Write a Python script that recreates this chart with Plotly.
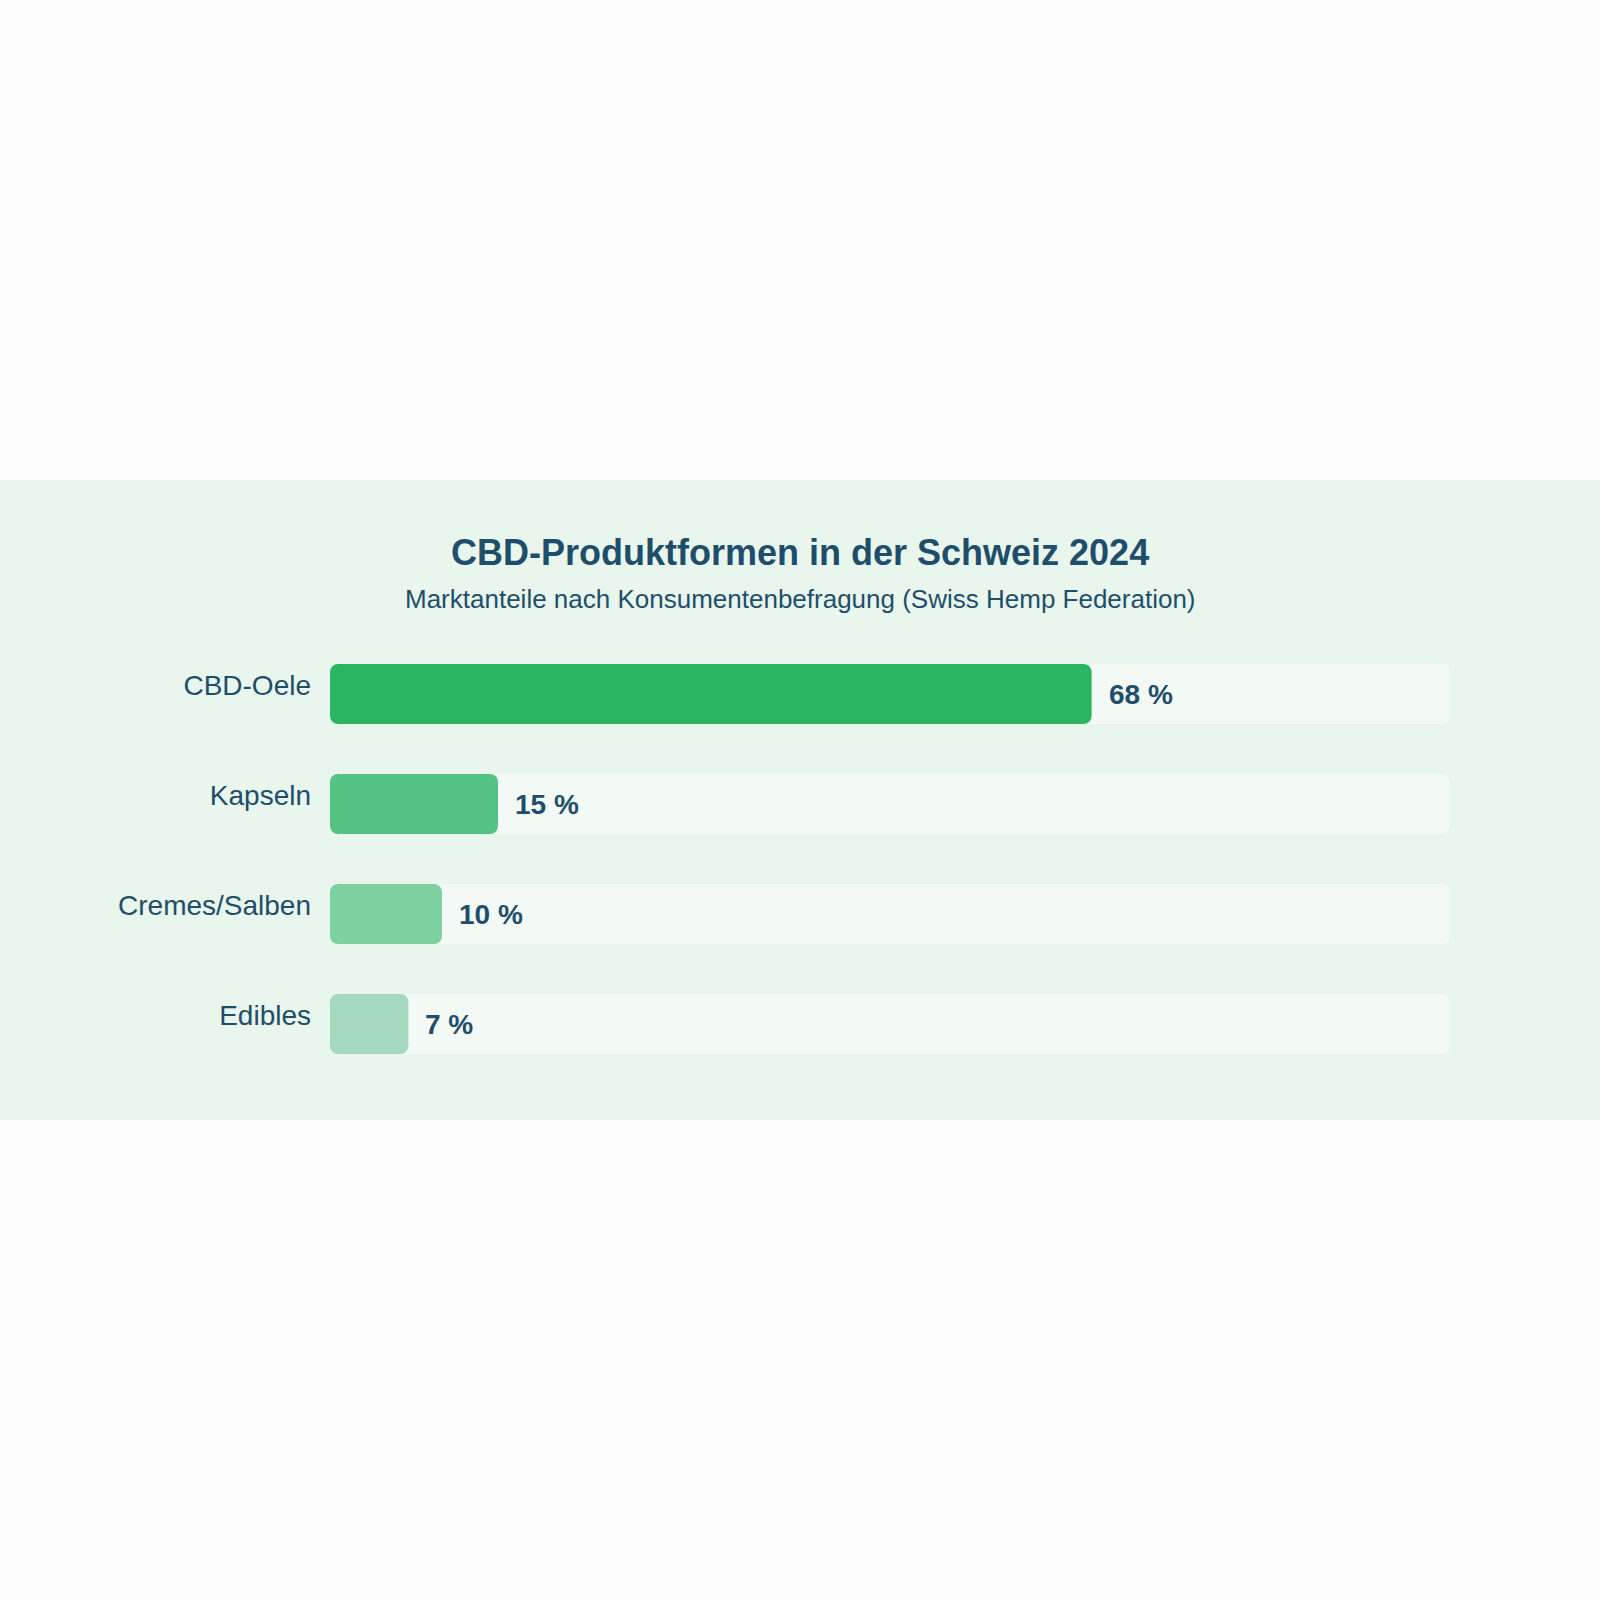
import plotly.graph_objects as go

categories = ["CBD-Oele", "Kapseln", "Cremes/Salben", "Edibles"]
shares = [68, 15, 10, 7]
bar_colors = ["#2ab563", "#52c383", "#7dd1a0", "#a4d9c0"]
track_max = 100

title_text = "CBD-Produktformen in der Schweiz 2024"
subtitle_text = "Marktanteile nach Konsumentenbefragung (Swiss Hemp Federation)"

FONT = "Liberation Sans, Arial, Helvetica, sans-serif"
TEXT = "#1f4e6b"
PANEL = "#e9f6ee"
TRACK = "#f3faf6"
PAGE = "#fdfdfd"

W, H = 1600, 1600
L, R = 330, 150
T, B = 639, 521
pw = W - L - R
ph = H - T - B
panel_top, panel_bot = 480, 1120
BAR_W = 0.545
RAD = 8

fig = go.Figure()
# explicit base -> plotly rounds both ends of the bar
fig.add_trace(go.Bar(
    y=categories, x=[track_max] * len(categories), base=[0] * len(categories),
    orientation="h",
    marker=dict(color=TRACK, line=dict(width=0), cornerradius=RAD),
    width=BAR_W, showlegend=False, hoverinfo="skip",
))
fig.add_trace(go.Bar(
    y=categories, x=shares, base=[0] * len(categories), orientation="h",
    marker=dict(color=bar_colors, line=dict(width=0), cornerradius=RAD),
    width=BAR_W, showlegend=False,
))

for c, v in zip(categories, shares):
    fig.add_annotation(
        x=v, y=c, xref="x", yref="y", text=f"<b>{v} %</b>",
        showarrow=False, xanchor="left", xshift=15,
        font=dict(family=FONT, size=28, color=TEXT),
    )

fig.add_annotation(
    x=(800 - L) / pw, y=(H - B - 552) / ph, xref="paper", yref="paper",
    text=f"<b>{title_text}</b>", showarrow=False, xanchor="center", yanchor="middle",
    font=dict(family=FONT, size=36, color=TEXT),
)
fig.add_annotation(
    x=(800 - L) / pw, y=(H - B - 599) / ph, xref="paper", yref="paper",
    text=subtitle_text, showarrow=False, xanchor="center", yanchor="middle",
    font=dict(family=FONT, size=26, color=TEXT),
)

fig.add_shape(
    type="rect", xref="paper", yref="paper", layer="below",
    x0=-L / pw, x1=(W - L) / pw,
    y0=(H - B - panel_bot) / ph, y1=(H - B - panel_top) / ph,
    fillcolor=PANEL, line=dict(width=0),
)

fig.update_layout(
    width=W, height=H, autosize=False,
    margin=dict(l=L, r=R, t=T, b=B, pad=0),
    paper_bgcolor=PAGE, plot_bgcolor="rgba(0,0,0,0)",
    barmode="overlay",
    xaxis=dict(range=[0, track_max], visible=False, fixedrange=True),
    yaxis=dict(
        categoryorder="array", categoryarray=categories,
        autorange="reversed", showgrid=False, zeroline=False, showline=False,
        ticks="", ticklabelstandoff=18, ticklabelshift=9,
        tickfont=dict(family=FONT, size=28, color=TEXT),
    ),
    font=dict(family=FONT, color=TEXT),
)

fig.write_html(
    "out.html",
    config={"displayModeBar": False},
    post_script="document.body.style.margin='0';document.body.style.overflow='hidden';",
)
